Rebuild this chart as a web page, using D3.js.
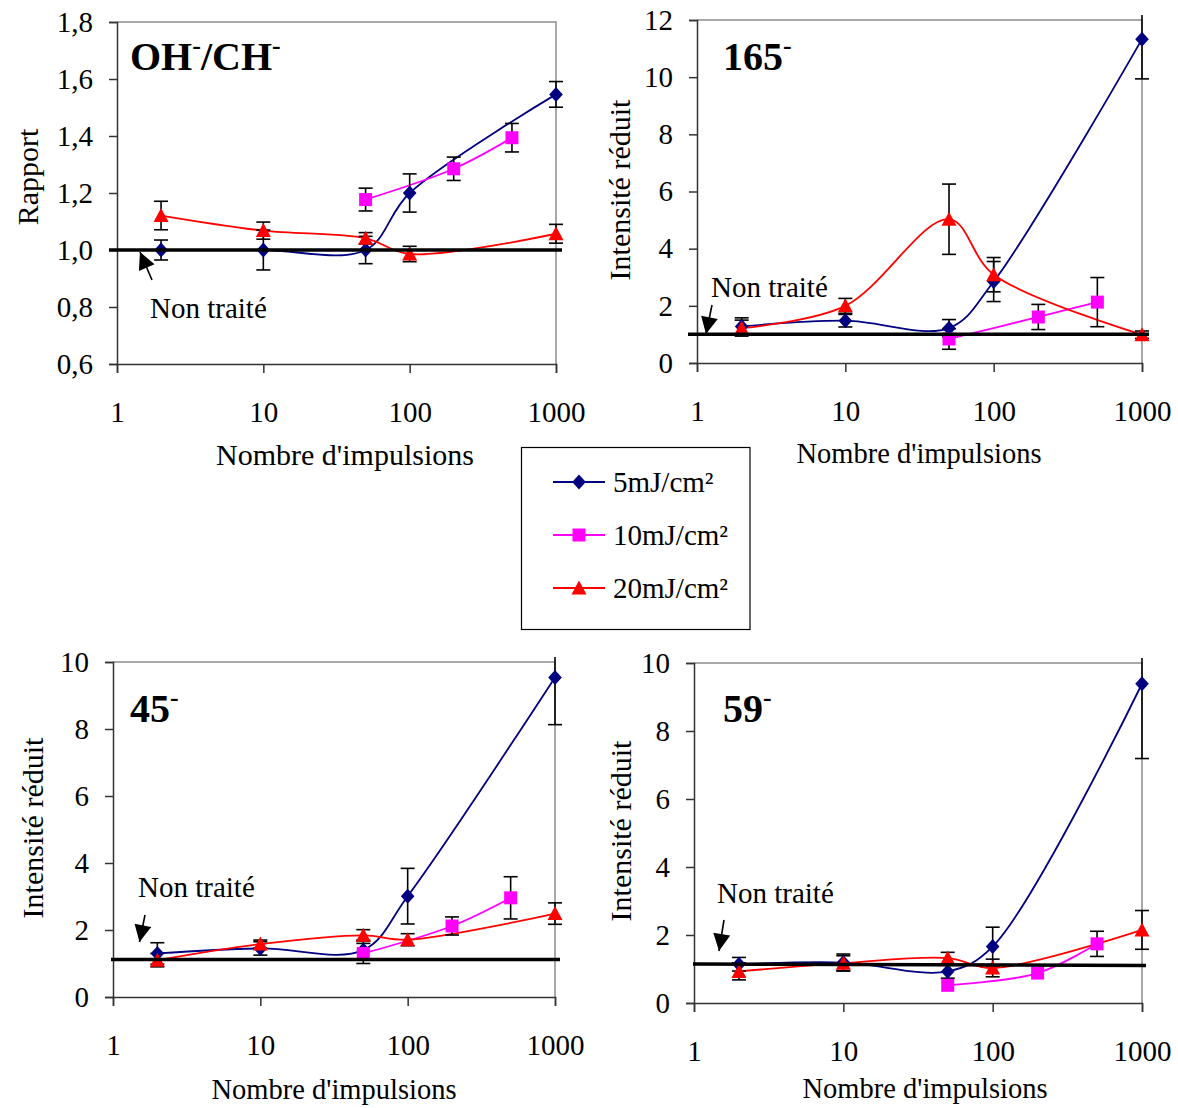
<!DOCTYPE html>
<html><head><meta charset="utf-8">
<script src="https://cdn.jsdelivr.net/npm/d3@7"></script>
<style>body{margin:0;background:#fff} svg text{font-family:"Liberation Serif","Times New Roman",serif;fill:#000}</style>
</head><body><svg id="c" width="1178" height="1108"></svg>
<script>
// ---------- DATA ----------
const pulses5 = [2, 10, 50, 100, 1000];
const pulses10 = [50, 200, 500];
const pulses20 = [2, 10, 50, 100, 1000];
const seriesNames = ["5mJ/cm²", "10mJ/cm²", "20mJ/cm²"];
const seriesColors = ["#000080", "#FF00FF", "#FF0000"];

// OH-/CH- (Rapport)
const ohch5 = [1.00, 1.00, 1.00, 1.20, 1.546];
const ohch5Err = [0.035, 0.07, 0.048, 0.067, 0.045];
const ohch10 = [1.177, 1.285, 1.394];
const ohch10Err = [0.04, 0.041, 0.05];
const ohch20 = [1.121, 1.068, 1.041, 0.986, 1.057];
const ohch20Err = [0.05, 0.03, 0.02, 0.027, 0.033];

// 165-
const m165s5 = [1.28, 1.48, 1.22, 2.85, 11.33];
const m165s5Err = [0.3, 0.22, 0.3, 0.7, 1.39];
const m165s10 = [0.84, 1.61, 2.13];
const m165s10Err = [0.36, 0.44, 0.86];
const m165s20 = [1.22, 2.0, 5.03, 3.09, 0.99];
const m165s20Err = [0.28, 0.26, 1.23, 0.6, 0.13];

// 45-
const m45s5 = [1.30, 1.45, 1.40, 3.01, 9.54];
const m45s5Err = [0.32, 0.2, 0.3, 0.83, 1.41];
const m45s10 = [1.30, 2.12, 2.96];
const m45s10Err = [0.3, 0.27, 0.63];
const m45s20 = [1.10, 1.58, 1.84, 1.71, 2.49];
const m45s20Err = [0.2, 0.12, 0.17, 0.18, 0.32];

// 59-
const m59s5 = [1.14, 1.19, 0.93, 1.66, 9.39];
const m59s5Err = [0.2, 0.25, 0.2, 0.57, 2.2];
const m59s10 = [0.52, 0.88, 1.74];
const m59s10Err = [0, 0, 0.37];
const m59s20 = [0.93, 1.17, 1.32, 1.03, 2.15];
const m59s20Err = [0.25, 0.22, 0.17, 0.26, 0.57];

const xTickValues = [1, 10, 100, 1000];
const yTicksOHCH = [0.6, 0.8, 1.0, 1.2, 1.4, 1.6, 1.8];
const yTicks165 = [0, 2, 4, 6, 8, 10, 12];
const yTicks45 = [0, 2, 4, 6, 8, 10];
const yTicks59 = [0, 2, 4, 6, 8, 10];
const nonTraiteStart = [1.0, 1.01, 1.12, 1.15];
const nonTraiteEnd = [1.0, 1.01, 1.12, 1.10];
const titles = [["OH", "-", "/CH", "-"], ["165", "-"], ["45", "-"], ["59", "-"]];
const yLabels = ["Rapport", "Intensité réduit", "Intensité réduit", "Intensité réduit"];
const xLabel = "Nombre d'impulsions";
const annotationText = "Non traité";

// ---------- LAYOUT ----------
const panels = [
  {l:117,r:556,t:22,b:364,dom:[0.6,1.8],ticks:yTicksOHCH,comma:true,
   s:[[pulses5,ohch5,ohch5Err],[pulses10,ohch10,ohch10Err],[pulses20,ohch20,ohch20Err]],
   tx:130,ty:70,ylx:27,yly:177,xlx:345,xly:465,xlfs:30,
   ntx1:109,ntx2:562,ntTx:150,ntTy:318,arr:[152,280,140,252]},
  {l:697,r:1142,t:20,b:363,dom:[0,12],ticks:yTicks165,
   s:[[pulses5,m165s5,m165s5Err],[pulses10,m165s10,m165s10Err],[pulses20,m165s20,m165s20Err]],
   tx:723,ty:70,ylx:619,yly:190,xlx:919,xly:463,xlfs:28.5,
   ntx1:688,ntx2:1149,ntTx:711,ntTy:297,arr:[712,305,706,334]},
  {l:113,r:555,t:662,b:997,dom:[0,10],ticks:yTicks45,
   s:[[pulses5,m45s5,m45s5Err],[pulses10,m45s10,m45s10Err],[pulses20,m45s20,m45s20Err]],
   tx:130,ty:722,ylx:32,yly:828,xlx:334,xly:1099,xlfs:28.5,
   ntx1:111,ntx2:560,ntTx:138,ntTy:897,arr:[145,915,139.5,942]},
  {l:694,r:1142,t:663,b:1003,dom:[0,10],ticks:yTicks59,
   s:[[pulses5,m59s5,m59s5Err],[pulses10,m59s10,m59s10Err],[pulses20,m59s20,m59s20Err]],
   tx:723,ty:722,ylx:620,yly:831,xlx:925,xly:1098,xlfs:28.5,
   ntx1:693,ntx2:1146,ntTx:717,ntTy:903,arr:[724,920,719,951]}
];

const svg = d3.select("#c");
svg.append("defs").append("marker").attr("id","ah").attr("viewBox","0 0 10 10")
  .attr("refX",10).attr("refY",5).attr("markerWidth",18).attr("markerHeight",17)
  .attr("markerUnits","userSpaceOnUse").attr("orient","auto")
  .append("path").attr("d","M0,0L10,5L0,10z").attr("fill","#000");

const markerPaths = [
  "M0,-7.5L6.8,0L0,7.5L-6.8,0Z",
  "M-6.5,-6.5H6.5V6.5H-6.5Z",
  "M0,-7.5L7.5,6.5L-7.5,6.5Z"
];

panels.forEach((p, pi) => {
  const g = svg.append("g");
  const x = d3.scaleLog().domain([1, 1000]).range([p.l, p.r]);
  const y = d3.scaleLinear().domain(p.dom).range([p.b, p.t]);

  g.append("path").attr("d", `M${p.l},${p.t}H${p.r}V${p.b}`).attr("fill","none")
    .attr("stroke","#8c8c8c").attr("stroke-width",1.5);

  const fmt = p.comma ? (d => d3.format(".1f")(d).replace(".", ",")) : d3.format("d");
  const ya = g.append("g").attr("transform",`translate(${p.l},0)`)
    .call(d3.axisLeft(y).tickValues(p.ticks).tickSize(8).tickPadding(16).tickFormat(fmt));
  ya.select(".domain").attr("stroke","#333").attr("stroke-width",1.5);
  ya.selectAll(".tick line").attr("stroke","#333").attr("stroke-width",1.5);
  ya.selectAll("text").attr("font-size",29).attr("font-family","Liberation Serif").attr("fill","#000");

  const xa = g.append("g").attr("transform",`translate(0,${p.b})`)
    .call(d3.axisBottom(x).tickValues(xTickValues).tickSize(9).tickPadding(28).tickFormat(d3.format("d")));
  xa.select(".domain").attr("stroke","#333").attr("stroke-width",1.5);
  xa.selectAll(".tick line").attr("stroke","#333").attr("stroke-width",1.5);
  xa.selectAll("text").attr("font-size",29).attr("font-family","Liberation Serif").attr("fill","#000");

  g.append("text").attr("transform",`translate(${p.ylx},${p.yly}) rotate(-90)`)
    .attr("text-anchor","middle").attr("dominant-baseline","central")
    .attr("font-size",30).text(yLabels[pi]);
  g.append("text").attr("x",p.xlx).attr("y",p.xly).attr("text-anchor","middle")
    .attr("font-size",p.xlfs).text(xLabel);

  const tt = g.append("text").attr("x",p.tx).attr("y",p.ty).attr("font-size",40).attr("font-weight","bold");
  titles[pi].forEach(part => {
    if (part === "-") tt.append("tspan").attr("font-size",26).attr("baseline-shift","62%").text("-");
    else tt.append("tspan").text(part);
  });

  const line = d3.line().x(d => x(d[0])).y(d => y(d[1])).curve(d3.curveCatmullRom.alpha(0.5));

  p.s.forEach((s, si) => {
    const pts = s[0].map((v, i) => [v, s[1][i]]);
    g.append("path").datum(pts).attr("d", line).attr("fill","none")
      .attr("stroke", seriesColors[si]).attr("stroke-width", 1.8);
  });
  p.s.forEach((s, si) => {
    s[0].forEach((v, i) => {
      const e = s[2][i]; if (!e) return;
      const cx = x(v);
      const yTop = y(s[1][i] + e);
      const y1 = Math.max(yTop, p.t - 5);
      const y2 = y(s[1][i] - e);
      const eb = g.append("g").attr("stroke","#000").attr("stroke-width",1.6);
      eb.append("line").attr("x1",cx).attr("x2",cx).attr("y1",y1).attr("y2",y2);
      if (yTop >= p.t - 5) eb.append("line").attr("x1",cx-7).attr("x2",cx+7).attr("y1",y1).attr("y2",y1);
      eb.append("line").attr("x1",cx-7).attr("x2",cx+7).attr("y1",y2).attr("y2",y2);
    });
  });
  p.s.forEach((s, si) => {
    s[0].forEach((v, i) => {
      g.append("path").attr("d", markerPaths[si])
        .attr("transform", `translate(${x(v)},${y(s[1][i])})`)
        .attr("fill", seriesColors[si]);
    });
  });

  g.append("line").attr("x1",p.ntx1).attr("x2",p.ntx2)
    .attr("y1",y(nonTraiteStart[pi])).attr("y2",y(nonTraiteEnd[pi]))
    .attr("stroke","#000").attr("stroke-width",3.5);
  g.append("text").attr("x",p.ntTx).attr("y",p.ntTy).attr("font-size",29).text(annotationText);
  g.append("line").attr("x1",p.arr[0]).attr("y1",p.arr[1]).attr("x2",p.arr[2]).attr("y2",p.arr[3])
    .attr("stroke","#000").attr("stroke-width",1.6).attr("marker-end","url(#ah)");
});

// legend
const lg = svg.append("g");
lg.append("rect").attr("x",521.5).attr("y",447.5).attr("width",228.5).attr("height",182)
  .attr("fill","#fff").attr("stroke","#000").attr("stroke-width",1.2);
const legY = d3.scalePoint().domain(seriesNames).range([482, 588]);
seriesNames.forEach((n, si) => {
  const yy = legY(n);
  lg.append("line").attr("x1",553).attr("x2",605).attr("y1",yy).attr("y2",yy)
    .attr("stroke",seriesColors[si]).attr("stroke-width",1.8);
  lg.append("path").attr("d", markerPaths[si])
    .attr("transform",`translate(579,${yy})`).attr("fill",seriesColors[si]);
  lg.append("text").attr("x",613).attr("y",yy).attr("dy","0.35em").attr("font-size",29).text(n);
});
</script></body></html>
